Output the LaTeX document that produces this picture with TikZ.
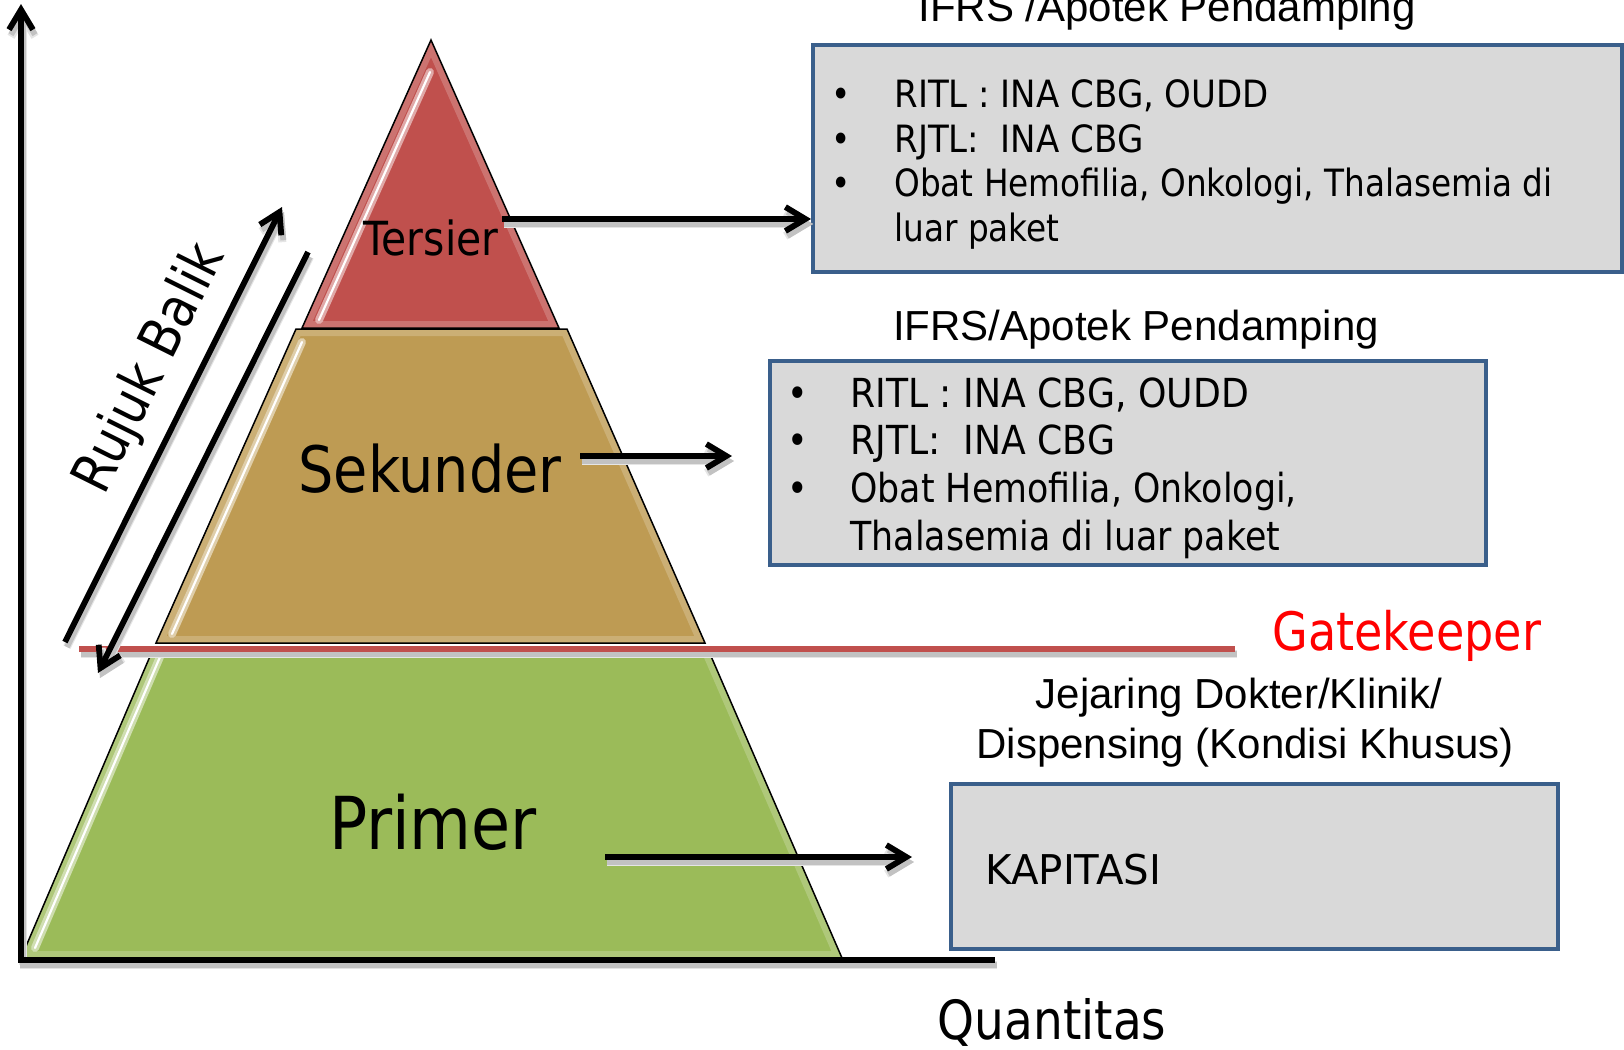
\documentclass[tikz,border=0pt]{standalone}
\usepackage{fontspec}
\usepackage{graphicx}
\setmainfont{DejaVu Sans}[FakeStretch=0.87]
\newfontfamily\headfont{Liberation Sans}
\usetikzlibrary{arrows.meta,fit}

\definecolor{tersiercol}{HTML}{C0504D}
\definecolor{sekundercol}{HTML}{BE9B53}
\definecolor{primercol}{HTML}{9BBB59}
\definecolor{panelfill}{HTML}{D9D9D9}
\definecolor{panelline}{HTML}{3A5F8B}
\definecolor{gatecol}{HTML}{C0504D}

\newcommand{\fsz}[1]{\fontsize{#1pt}{#1pt}\selectfont}

\tikzset{
  txt/.style={inner sep=0pt, anchor=base},
  txtl/.style={inner sep=0pt, anchor=base west},
  itemA/.style={txtl, font=\fsz{18.8}},
  itemB/.style={txtl, font=\fsz{20}},
  head/.style={txt, font=\headfont\fsz{21}},
  tierbox/.style={draw=black, line width=0.75pt, line join=miter},
  glare/.style={draw=white, draw opacity=0.2, line width=7pt},
  streak/.style={draw=white, line width=1.1pt, line cap=round},
  streakband/.style={line width=4pt, draw opacity=0.85, line cap=round},
  thickline/.style={line width=2.9pt},
  barbtip/.style={-{Straight Barb[length=10pt,width=12pt]}},
  panel/.style={draw=panelline, fill=panelfill, line width=2pt, inner sep=0pt},
}

% one tier of the pyramid: colour, outline, highlight streak
\newcommand{\pyrtier}[3]{%
  \fill[#1] #2 -- cycle;
  \begin{scope}
    \clip #2 -- cycle;
    \draw[glare] #2 -- cycle;
  \end{scope}
  \draw[streakband, draw=#1!40!white] #3;
  \draw[streak] #3;
  \draw[tierbox] #2 -- cycle;}

% a stroke with a soft grey shadow cast below it
\newcommand{\castpath}[2]{%
  \begin{scope}[transform canvas={shift={(2,5)}}]
    \draw[#1, draw=black!10, line width=4pt] #2;
    \draw[#1, draw=black!24] #2;
  \end{scope}
  \draw[#1] #2;}

\begin{document}
\begin{tikzpicture}[x=0.5pt,y=-0.5pt]
\useasboundingbox (0,0) rectangle (1624,1050);

% corner points of the tiers
\coordinate (t-apex) at (431,40);
\coordinate (t-bl) at (302,328);
\coordinate (t-br) at (559,328);
\coordinate (s-tl) at (296,329);
\coordinate (s-tr) at (567,329);
\coordinate (s-br) at (705,643);
\coordinate (s-bl) at (156,643);
\coordinate (p-tl) at (154,647);
\coordinate (p-tr) at (707,647);
\coordinate (p-br) at (842,958);
\coordinate (p-bl) at (21,958);

\pyrtier{tersiercol}{(t-apex) -- (t-br) -- (t-bl)}{(430,72) -- (319,320)}
\pyrtier{sekundercol}{(s-tl) -- (s-tr) -- (s-br) -- (s-bl)}{(302,342) -- (172,634)}
\pyrtier{primercol}{(p-tl) -- (p-tr) -- (p-br) -- (p-bl)}{(160,657) -- (35,948)}

% gatekeeper line
\coordinate (gk-a) at (79,649);
\coordinate (gk-b) at (1235,649);
\castpath{gatecol, line width=2.9pt}{(gk-a) -- (gk-b)}

% axes
\coordinate (origin) at (21,960);
\coordinate (y-end) at (21,4);
\coordinate (x-start) at (18,960);
\coordinate (x-end) at (995,960);
\castpath{thickline, barbtip}{(origin) -- (y-end)}
\castpath{thickline}{(x-start) -- (x-end)}

% payment panels
\node[panel, fit={(813,45) (1622,272)}] (b1) {};
\node[panel, fit={(770,361) (1486,565)}] (b2) {};
\node[panel, fit={(951,784) (1558,949)}] (b3) {};

% tier arrows
\coordinate (t-from) at (502,219);
\coordinate (s-from) at (580,456);
\coordinate (s-to) at (732,456);
\coordinate (p-from) at (605,857);
\coordinate (p-to) at (912,857);
\castpath{thickline, barbtip}{(t-from) -- (t-from -| b1.west)}
\castpath{thickline, barbtip}{(s-from) -- (s-to)}
\castpath{thickline, barbtip}{(p-from) -- (p-to)}

% referral arrows
\coordinate (rb-up-a) at (65,642);
\coordinate (rb-up-b) at (282,207);
\coordinate (rb-dn-a) at (308,252);
\coordinate (rb-dn-b) at (98,673);
\castpath{thickline, barbtip}{(rb-up-a) -- (rb-up-b)}
\castpath{thickline, barbtip}{(rb-dn-a) -- (rb-dn-b)}
\node[inner sep=0pt, rotate=63.5, font=\fsz{28}] (rujuk) at (151,369) {Rujuk Balik};

% tier names
\node[txt, font=\fsz{23.5}] (tersier) at (431,255) {Tersier};
\node[txt, font=\fsz{32}] (sekunder) at (430,492) {Sekunder};
\node[txt, font=\fsz{36.5}] (primer) at (433,849) {Primer};

\node[txtl, font=\fsz{26.5}, text=red] (gate) at (1272,650) {Gatekeeper};
\node[txt, font=\fsz{27}] (quant) at (1052,1039) {Quantitas};

% headings
\node[head] (h1) at (1167,21) {IFRS /Apotek Pendamping};
\node[head] (h2) at (1136,340) {IFRS/Apotek Pendamping};
\node[head] (h3a) at (1239,708) {Jejaring Dokter/Klinik/};
\node[head] (h3b) at (1245,758) {Dispensing (Kondisi Khusus)};

% panel contents
\node[itemA] (b1-d1) at (831,107) {•};
\node[itemA] (b1-d2) at (831,152) {•};
\node[itemA] (b1-d3) at (831,196) {•};
\node[itemA] (b1-l1) at (894,107) {\scalebox{1.04}[1]{RITL : INA CBG, OUDD}};
\node[itemA] (b1-l2) at (894,152) {\scalebox{1.04}[1]{RJTL:\ \ INA CBG}};
\node[itemA] (b1-l3) at (894,196) {Obat Hemofilia, Onkologi, Thalasemia di};
\node[itemA] (b1-l4) at (894,241) {luar paket};

\node[itemB] (b2-d1) at (787,407) {•};
\node[itemB] (b2-d2) at (787,454) {•};
\node[itemB] (b2-d3) at (787,502) {•};
\node[itemB] (b2-l1) at (850,407) {\scalebox{1.04}[1]{RITL : INA CBG, OUDD}};
\node[itemB] (b2-l2) at (850,454) {\scalebox{1.04}[1]{RJTL:\ \ INA CBG}};
\node[itemB] (b2-l3) at (850,502) {Obat Hemofilia, Onkologi,};
\node[itemB] (b2-l4) at (850,550) {Thalasemia di luar paket};

\node[txtl, font=\fsz{20.5}] (kap) at (985,884) {\scalebox{1.13}[1]{KAPITASI}};
\end{tikzpicture}
\end{document}
